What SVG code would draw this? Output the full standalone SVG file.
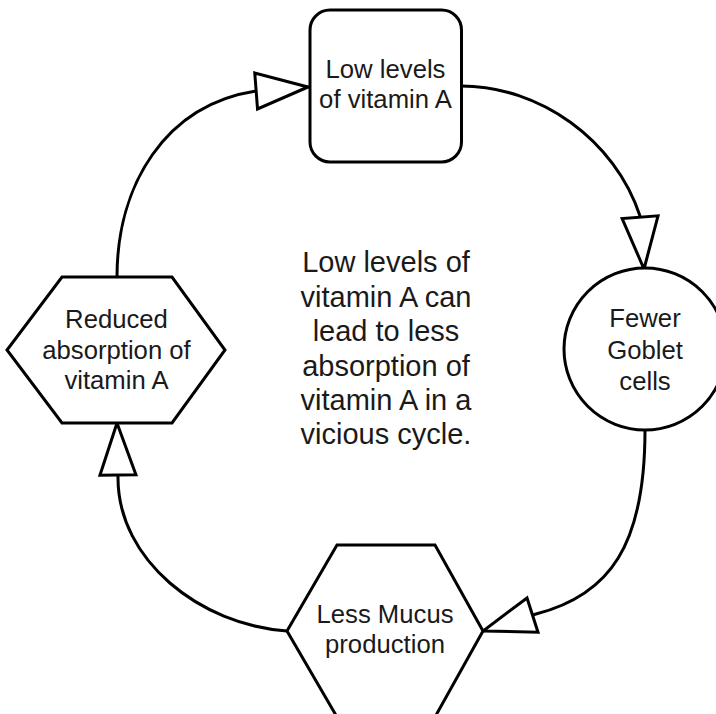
<svg xmlns="http://www.w3.org/2000/svg" width="716" height="714" viewBox="0 0 716 714">
<defs>
<style>
.node{fill:#fff;stroke:#000;stroke-width:3;stroke-linejoin:round}
.hex{stroke-linejoin:miter}
.conn{fill:none;stroke:#000;stroke-width:3}
text{font-family:"Liberation Sans",Arial,sans-serif;fill:#1a1a1a;text-anchor:middle}
.lbl{font-size:25.7px}
.note{font-size:29px}
</style>
<marker id="arr" markerUnits="userSpaceOnUse" viewBox="-56 -21 60 42" refX="0" refY="0" markerWidth="60" markerHeight="42" orient="auto" overflow="visible">
<path d="M0,0 L-52,-18 L-52,18 Z" fill="#fff" stroke="#000" stroke-width="3" stroke-linejoin="miter"/>
</marker>
</defs>
<rect width="716" height="714" fill="#fff"/>
<g id="connectors">
<path class="conn" d="M461,86 C540,86 615,140 640,216 L644,269" marker-end="url(#arr)"/>
<path class="conn" d="M645,430 C645,545 610,595 536,614 L483,631" marker-end="url(#arr)"/>
<path class="conn" d="M287,631 C200,625 118,560 118,478 L117,423" marker-end="url(#arr)"/>
<path class="conn" d="M117,277 C117,185 165,105 256,91 L308,87" marker-end="url(#arr)"/>
</g>
<g id="node-low-levels">
<rect class="node" x="310" y="10" width="151.5" height="152" rx="20" ry="20"/>
<text class="lbl" x="385.5" y="78">Low levels</text>
<text class="lbl" x="385.5" y="108">of vitamin A</text>
</g>
<g id="node-goblet">
<circle class="node" cx="645" cy="349" r="81"/>
<text class="lbl" x="645" y="327">Fewer</text>
<text class="lbl" x="645" y="358.5">Goblet</text>
<text class="lbl" x="645" y="390">cells</text>
</g>
<g id="node-mucus">
<polygon class="node hex" points="337,545 435,545 483,631 435,717 337,717 287,631"/>
<text class="lbl" x="385" y="623">Less Mucus</text>
<text class="lbl" x="385" y="653">production</text>
</g>
<g id="node-absorption">
<polygon class="node hex" points="62,277 172,277 225,350 172,423 62,423 7,350"/>
<text class="lbl" x="116.5" y="327.5">Reduced</text>
<text class="lbl" x="116.5" y="358.5">absorption of</text>
<text class="lbl" x="116.5" y="389">vitamin A</text>
</g>
<g id="note">
<text class="note" x="386" y="272">Low levels of</text>
<text class="note" x="386" y="306.5">vitamin A can</text>
<text class="note" x="386" y="341">lead to less</text>
<text class="note" x="386" y="375.5">absorption of</text>
<text class="note" x="386" y="410">vitamin A in a</text>
<text class="note" x="386" y="444">vicious cycle.</text>
</g>
</svg>
